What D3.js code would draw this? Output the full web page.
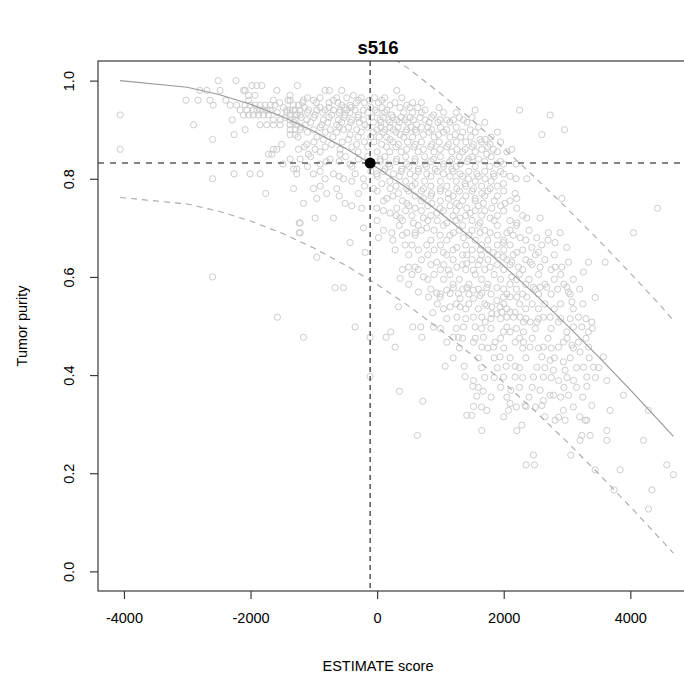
<!DOCTYPE html>
<html><head><meta charset="utf-8">
<script src="https://cdn.jsdelivr.net/npm/d3@7/dist/d3.min.js"></script>
<style>
body{margin:0;background:#fff}
text{font-family:"Liberation Sans",Arial,Helvetica,sans-serif;fill:#000}
</style>
</head><body>
<svg id="chart" width="684" height="681"></svg>
<script>
// ---------------- data ----------------
const chartTitle = "s516";
const xLabel = "ESTIMATE score";
const yLabel = "Tumor purity";
const xTicks = [-4000, -2000, 0, 2000, 4000];
const yTicks = [0.0, 0.2, 0.4, 0.6, 0.8, 1.0];

// the sample being judged
const sampleScore = -110;
const samplePurity = 0.832;

// fitted curve and its bounds at these scores
const lineScores  = [-4060, -3000, -2500, -2000, -1500, -1000, -500, 0, 500, 1000, 1500, 2000, 2500, 3000, 3500, 4000, 4500, 4680];
const fitPurity   = [1.000, 0.9865, 0.9718, 0.9519, 0.9269, 0.8969, 0.8620, 0.8225, 0.7786, 0.7303, 0.6783, 0.6227, 0.5639, 0.5018, 0.4370, 0.3697, 0.3005, 0.2751];
const lowerPurity = [0.762, 0.7485, 0.7338, 0.7139, 0.6889, 0.6589, 0.6240, 0.5845, 0.5406, 0.4923, 0.4403, 0.3847, 0.3259, 0.2638, 0.1990, 0.1317, 0.0625, 0.0371];
const upperPurity = [1.246, 1.2345, 1.2198, 1.1999, 1.1749, 1.1449, 1.1090, 1.0680, 1.0240, 0.9740, 0.9200, 0.8620, 0.8019, 0.7398, 0.6750, 0.6077, 0.5385, 0.5111];

// reference samples: [ESTIMATE score, tumor purity]
const referenceSamples = [
[-4060,0.93],[-4060,0.86],[-2510,1.0],[-2230,1.0],[-3020,0.96],[-2830,0.96],[-2640,0.96],[-2800,0.98],[-2690,0.98],
[-2590,0.95],[-2480,0.98],[-2900,0.91],[-2600,0.88],[-2600,0.80],[-2600,0.60],[-2260,0.81],[-2390,0.96],[-2290,0.92],
[-2260,0.89],[-2320,0.95],[-2220,0.95],[-2165,0.94],
[-1760,0.77],[-1320,0.78],[-1230,0.71],[-1230,0.69],
[-1980,0.99],[-1901,0.99],[-1822,0.99],[-1259,0.99],[-2086,0.98],[-2110,0.98],[-2033,0.97],[-1930,0.97],[-1585,0.98],[-1375,0.97],
[-1375,0.96],[-1640,0.96],[-1410,0.96],[-2030,0.96],
[-2086,0.95],[-2007,0.95],[-1928,0.95],[-1849,0.95],[-1770,0.95],[-1690,0.95],[-1612,0.95],[-1322,0.95],[-1243,0.95],
[-2059,0.94],[-1954,0.94],[-1849,0.94],[-1427,0.94],[-1322,0.94],[-1901,0.94],[-1796,0.94],[-1743,0.94],[-1690,0.94],[-1375,0.94],[-1296,0.94],
[-1375,0.93],[-1269,0.93],[-2112,0.93],[-2033,0.93],[-1955,0.93],[-1875,0.93],[-1796,0.93],[-1717,0.93],[-1296,0.93],
[-1640,0.92],[-1530,0.92],[-1375,0.92],[-1296,0.92],
[-1849,0.91],[-1743,0.91],[-1638,0.91],[-1533,0.91],[-1375,0.91],[-1269,0.91],
[-2086,0.90],[-1375,0.90],[-1296,0.90],[-1375,0.89],[-1296,0.89],
[-1506,0.87],[-1585,0.86],[-1243,0.86],[-1640,0.86],[-1664,0.85],[-1717,0.85],[-1375,0.84],[-1490,0.83],
[-1269,0.82],[-1320,0.82],[-2007,0.81],[-1849,0.81],[-1269,0.81],
[-822,0.98],[-754,0.98],[-559,0.98],[310,0.98],[-374,0.97],
[-121,0.96],[-1164,0.96],[-1006,0.96],[-690,0.96],[-295,0.96],[73,0.96],
[-559,0.95],[-427,0.95],[205,0.95],[468,0.95],
[-1217,0.94],[-1085,0.94],[-954,0.94],[-822,0.94],[-690,0.94],[-585,0.94],[-480,0.94],[-348,0.94],[-216,0.94],[-32,0.94],[153,0.94],[758,0.94],[1548,0.94],
[232,0.93],[890,0.93],[-1217,0.93],[-980,0.93],[-717,0.93],[-506,0.93],[-295,0.93],
[995,0.92],[1100,0.92],[-1112,0.92],[-848,0.92],[-611,0.92],[-401,0.92],[-216,0.92],[47,0.92],[179,0.92],[310,0.92],[442,0.92],[574,0.92],[758,0.92],[1206,0.92],[1364,0.92],
[626,0.91],[-1138,0.91],[-875,0.91],[-638,0.91],[-190,0.91],
[-1217,0.90],[-1006,0.90],[-743,0.90],[-532,0.90],[-322,0.90],[-6,0.90],[126,0.90],[258,0.90],[468,0.90],[600,0.90],[863,0.90],[1100,0.90],[1469,0.90],
[-427,0.89],[363,0.89],[732,0.89],[969,0.89],[1232,0.89],
[1627,0.88],[1706,0.88],[-848,0.88],[-453,0.88],[205,0.88],
[1785,0.87],[-1112,0.87],[-717,0.87],[-322,0.87],[73,0.87],[337,0.87],[600,0.87],[863,0.87],[1127,0.87],[1522,0.87],
[-980,0.86],[-585,0.86],[468,0.86],[732,0.86],[995,0.86],[1258,0.86],[1390,0.86],[1653,0.86],[1838,0.86],
[-1085,0.85],[-585,0.85],[1732,0.85],
[-1217,0.84],[-743,0.84],[-295,0.84],[47,0.84],[310,0.84],[600,0.84],[890,0.84],[1180,0.84],[1443,0.84],[1601,0.84],
[-901,0.83],[-427,0.83],[179,0.83],[468,0.83],[758,0.83],[1048,0.83],[1311,0.83],[1890,0.83],
[126,0.82],[389,0.82],[653,0.82],[916,0.82],[1180,0.82],
[-6,0.81],[258,0.81],[521,0.81],[784,0.81],[1048,0.81],[1311,0.81],[1575,0.81],[1838,0.81],[-1006,0.81],[-690,0.81],[-348,0.81],
[1443,0.80],[1706,0.80],[-822,0.80],[-532,0.80],[-216,0.80],
[73,0.79],[600,0.79],[1390,0.79],
[-1006,0.78],[-638,0.78],[-58,0.78],[205,0.78],[468,0.78],[732,0.78],[995,0.78],[1258,0.78],[1522,0.78],[1785,0.78],
[-796,0.77],[-295,0.77],[337,0.77],[863,0.77],[1127,0.77],[1653,0.77],
[-954,0.76],[153,0.76],[732,0.76],[1127,0.76],[1548,0.76],
[-1164,0.75],[-506,0.75],[468,0.75],[863,0.75],[1258,0.75],[1680,0.75],
[-243,0.74],[-6,0.74],[310,0.74],[600,0.74],[995,0.74],[1416,0.74],[1811,0.74],
[205,0.73],[942,0.73],[1469,0.73],
[-980,0.72],[-690,0.72],[363,0.72],[732,0.72],[1311,0.72],[1785,0.72],
[-1217,0.71],[574,0.71],[1100,0.71],[1627,0.71],
[-216,0.70],[784,0.70],
[-1217,0.69],[231,0.69],[468,0.69],[600,0.69],[1206,0.69],[1627,0.69],[1785,0.69],[995,0.685],
[21,0.68],[1364,0.68],[-427,0.67],[442,0.665],[784,0.665],[1258,0.66],
[284,0.655],[653,0.655],[1627,0.655],[-190,0.65],[1048,0.65],[1838,0.65],[1416,0.645],[-954,0.64],
[1627,0.634],[942,0.63],[1416,0.627],[495,0.62],[600,0.62],[1258,0.62],[1785,0.62],[1127,0.614],[1522,0.614],
[732,0.60],[363,0.597],
[2250,0.94],[2733,0.93],[2602,0.89],[2960,0.90],[2128,0.86],[2196,0.83],[1996,0.83],[2196,0.80],[2365,0.80],[1996,0.81],
[1996,0.79],[2180,0.77],[2207,0.76],[2022,0.75],[2207,0.74],[2918,0.76],[4429,0.74],[4050,0.69],[2365,0.72],[2575,0.72],
[2207,0.71],[2707,0.69],[2891,0.69],[2523,0.68],[2260,0.68],[2050,0.69],[1996,0.67],[2997,0.66],[2812,0.67],[2444,0.66],
[2549,0.65],[2207,0.65],[1996,0.64],[3023,0.63],[3339,0.63],[3602,0.63],[2812,0.62],[2918,0.62],[2575,0.62],[2417,0.63],
[2128,0.63],[2233,0.62],[3260,0.61],[2128,0.60],
[-664,0.578],[-532,0.578],[-348,0.498],[-1164,0.477],[-111,0.477],[-111,0.397],[142,0.477],[216,0.488],[284,0.457],
[337,0.539],[353,0.367],[564,0.498],[637,0.277],[722,0.347],
[653,0.569],[943,0.567],[1101,0.573],[1206,0.578],[1285,0.566],[1417,0.578],[1522,0.573],[1654,0.567],[1733,0.578],[1891,0.578],
[880,0.527],[1153,0.539],[1311,0.539],[1259,0.518],[1364,0.498],[1522,0.518],[1548,0.498],[1654,0.518],[1706,0.508],
[1812,0.539],[1891,0.525],[1943,0.539],
[690,0.498],[706,0.477],[890,0.498],[1101,0.467],[1206,0.477],[1285,0.477],[1522,0.467],[1654,0.457],[1680,0.477],
[1838,0.457],[1943,0.437],[1864,0.467],
[1074,0.418],[1375,0.418],[1390,0.397],[1522,0.389],[1512,0.377],[1675,0.367],[1575,0.357],[1522,0.336],[1417,0.318],
[1496,0.318],[1733,0.328],[1654,0.287],
[995,0.559],[1153,0.566],[1522,0.556],[1627,0.562],[1311,0.556],[811,0.559],[1891,0.552],[1733,0.542],[1812,0.525],
[3444,0.558],[3076,0.549],[3181,0.518],[3392,0.508],[3339,0.488],[3102,0.498],[3234,0.498],[2997,0.488],[2865,0.508],
[2733,0.518],[2628,0.518],[2523,0.508],[2417,0.508],[2312,0.508],[2260,0.518],[2154,0.518],[2049,0.518],[1970,0.528],
[2101,0.528],[2180,0.528],[2575,0.579],[2681,0.579],[2997,0.579],[3023,0.569],[2470,0.579],[2365,0.559],[2207,0.559],
[2101,0.559],[1996,0.559],[2049,0.498],[1996,0.488],[2101,0.488],[2312,0.488],[2180,0.467],[2312,0.467],[2417,0.457],
[2628,0.457],[2865,0.457],[2944,0.467],[3076,0.461],[3181,0.467],[3339,0.457],[3207,0.447],[3576,0.437],[3629,0.389],
[3892,0.359],[4287,0.328],[3418,0.416],[3260,0.416],[3313,0.396],[3313,0.377],[3102,0.389],[2970,0.410],[2786,0.410],
[2733,0.430],[2602,0.437],[2523,0.416],[2470,0.396],[2628,0.396],[2944,0.427],[2865,0.389],[3023,0.359],[2733,0.359],
[2628,0.348],[2602,0.338],[2786,0.359],[2101,0.342],[2075,0.328],[2338,0.338],[2865,0.314],[2812,0.308],[2970,0.308],
[2944,0.328],[3286,0.308],[3392,0.338],[3681,0.328],[3629,0.287],[3629,0.267],[3365,0.277],[3234,0.277],[3207,0.267],
[3313,0.308],[4208,0.267],[4577,0.217],[4682,0.197],[4340,0.166],[4287,0.127],[3840,0.207],[3444,0.207],[3744,0.166],
[3060,0.237],[2470,0.237],[2354,0.217],[2486,0.217],[2207,0.287],[2286,0.298],[2038,0.418],[2180,0.418],[2180,0.396],
[1996,0.396],[2112,0.369],[2354,0.336],[2575,0.369],
[-1575,0.518]
];

// further reference samples in the dense core, read row by row: [purity, [scores...]]
const referenceRows = [
[0.965, [-1100, -900, -640, -480, -250, -40, 120, 390]],
[0.955, [-1540, -1180, -960, -760, -620, -330, -200, 20, 280, 560, 700]],
[0.945, [-1480, -1150, -900, -760, -520, -410, -100, 80, 360, 520, 640, 980]],
[0.935, [-1580, -1430, -1100, -860, -600, -430, -150, 0, 120, 420, 560, 700, 1050, 1250]],
[0.925, [-1450, -1200, -1000, -760, -520, -300, -90, 100, 250, 380, 520, 680, 860, 1300, 1500]],
[0.915, [-1320, -1050, -780, -560, -420, -280, -60, 60, 200, 350, 480, 820, 960, 1150, 1420, 1700]],
[0.905, [-1200, -900, -600, -450, -150, 60, 200, 330, 540, 700, 800, 1000, 1250, 1600]],
[0.895, [-1100, -820, -640, -250, -60, 100, 300, 450, 620, 820, 1050, 1350, 1550, 1900]],
[0.885, [-1250, -950, -700, -300, -100, 30, 150, 420, 560, 900, 1150, 1320, 1480, 1800]],
[0.875, [-1000, -550, -200, -50, 250, 480, 700, 980, 1250, 1400, 1650, 1950]],
[0.865, [-1150, -820, -400, -150, 150, 300, 580, 850, 1100, 1500, 1750]],
[0.855, [-900, -300, 0, 200, 380, 650, 900, 1180, 1350, 1550, 1900, 2050]],
[0.845, [-1050, -500, -150, 120, 450, 750, 1000, 1300, 1500, 1800]],
[0.835, [-800, -600, 50, 300, 600, 850, 1150, 1420, 1700, 1950]],
[0.825, [-1100, -400, 200, 500, 780, 1050, 1250, 1550, 1780]],
[0.815, [-900, -100, 100, 380, 650, 950, 1200, 1450, 1700, 1950]],
[0.805, [-600, 0, 350, 600, 850, 1150, 1350, 1600, 1850, 2100]],
[0.795, [-400, 200, 450, 750, 1000, 1250, 1550, 1800]],
[0.785, [-900, -200, 300, 550, 850, 1100, 1400, 1650, 1900]],
[0.775, [0, 500, 700, 1000, 1300, 1500, 1750, 2000]],
[0.765, [-600, 250, 600, 850, 1200, 1400, 1700, 1900]],
[0.755, [100, 400, 700, 1000, 1350, 1550, 1850, 2100]],
[0.745, [-400, 500, 800, 1150, 1300, 1600, 1950]],
[0.735, [100, 450, 700, 1050, 1250, 1550, 1700, 2000]],
[0.725, [300, 550, 850, 1200, 1400, 1650, 1900, 2300]],
[0.715, [0, 400, 800, 950, 1250, 1500, 1850, 2100]],
[0.705, [350, 650, 1050, 1350, 1600, 1900, 2200]],
[0.695, [100, 700, 900, 1300, 1500, 1700, 2100, 2400]],
[0.685, [400, 600, 1150, 1450, 1900, 2150]],
[0.675, [250, 850, 1100, 1550, 1750, 2000, 2350, 2700]],
[0.665, [550, 1000, 1400, 1650, 1900, 2100, 2600]],
[0.655, [900, 1200, 1500, 1750, 2000, 2300]],
[0.645, [500, 800, 1100, 1350, 1650, 1900, 2150, 2500, 2800]],
[0.635, [700, 1200, 1500, 1750, 2050, 2350, 2650]],
[0.625, [850, 1050, 1350, 1600, 1900, 2100, 2450]],
[0.615, [400, 650, 1000, 1400, 1700, 2000, 2300, 2750]],
[0.605, [550, 900, 1150, 1550, 1850, 2250, 2550, 2900]],
[0.595, [800, 1050, 1300, 1650, 1950, 2200, 2400, 2800, 3100]],
[0.585, [500, 1200, 1450, 1750, 2100, 2350, 2650, 2950]],
[0.575, [850, 1350, 1600, 2000, 2200, 2500, 2850, 3200]],
[0.565, [1000, 1450, 1800, 2050, 2300, 2550, 2750, 3050]],
[0.545, [950, 1250, 1450, 1700, 2000, 2250, 2450, 2650, 2900, 3250]],
[0.535, [1050, 1400, 1600, 2050, 2350, 2550, 2800, 3100]],
[0.515, [1100, 1400, 1800, 1950, 2350, 2550, 2900, 3050, 3300]],
[0.495, [1000, 1250, 1650, 1800, 2200, 2500, 2750, 3400]],
[0.475, [1350, 1550, 1950, 2250, 2450, 2700, 3000, 3300]],
[0.455, [1300, 1750, 2000, 2300, 2550, 2750, 3100]],
[0.435, [1200, 1600, 1850, 2100, 2350, 2800, 3050, 3350]],
[0.415, [1650, 1900, 2250, 2650, 3150, 3500]],
[0.395, [1700, 1850, 2300, 2750, 3000, 3450]],
[0.375, [1600, 1950, 2250, 2450, 2950, 3150]],
[0.355, [1800, 2050, 2400, 2900, 3250]],
[0.335, [1650, 2200, 2500, 3100]],
[0.315, [2000, 2650, 3200]]
];

const allSamples = referenceSamples.concat(
  referenceRows.flatMap(([p, scores]) => scores.map(s => [s, p]))
);

// ---------------- layout ----------------
const svg = d3.select("#chart");
const W = 684, H = 681;
const plot = {left: 98, top: 61, right: 695.5, bottom: 591};

const x = d3.scaleLinear().domain([-4410, 5030]).range([plot.left, plot.right]);
const y = d3.scaleLinear().domain([-0.04, 1.04]).range([plot.bottom, plot.top]);

svg.append("rect").attr("width", W).attr("height", H).attr("fill", "#fff");

svg.append("defs").append("clipPath").attr("id", "clip")
  .append("rect").attr("x", plot.left).attr("y", plot.top)
  .attr("width", plot.right - plot.left).attr("height", plot.bottom - plot.top);

const g = svg.append("g").attr("clip-path", "url(#clip)");

// reference samples
g.append("g").selectAll("circle").data(allSamples).join("circle")
  .attr("cx", d => x(d[0])).attr("cy", d => y(d[1])).attr("r", 3.1)
  .attr("fill", "none").attr("stroke", "#cccccc").attr("stroke-width", 1);

const lineGen = vals => d3.line().x((d, i) => x(lineScores[i])).y(d => y(d))(vals);

g.append("path").attr("d", lineGen(fitPurity))
  .attr("fill", "none").attr("stroke", "#9a9a9a").attr("stroke-width", 1.2);
g.append("path").attr("d", lineGen(lowerPurity))
  .attr("fill", "none").attr("stroke", "#a8a8a8").attr("stroke-width", 1.1).attr("stroke-dasharray", "6,5");
g.append("path").attr("d", lineGen(upperPurity))
  .attr("fill", "none").attr("stroke", "#a8a8a8").attr("stroke-width", 1.1).attr("stroke-dasharray", "6,5");

// reference lines through the sample
g.append("line").attr("x1", x(sampleScore)).attr("x2", x(sampleScore))
  .attr("y1", plot.top).attr("y2", plot.bottom)
  .attr("stroke", "#5e5e5e").attr("stroke-width", 1.6).attr("stroke-dasharray", "5,4");
g.append("line").attr("x1", plot.left).attr("x2", plot.right)
  .attr("y1", y(samplePurity)).attr("y2", y(samplePurity))
  .attr("stroke", "#5e5e5e").attr("stroke-width", 1.6).attr("stroke-dasharray", "6,6");

svg.append("circle").attr("cx", x(sampleScore)).attr("cy", y(samplePurity)).attr("r", 5.5).attr("fill", "#000");

// box
svg.append("rect").attr("x", plot.left).attr("y", plot.top)
  .attr("width", plot.right - plot.left).attr("height", plot.bottom - plot.top)
  .attr("fill", "none").attr("stroke", "#3a3a3a").attr("stroke-width", 1.2);

// axes
const xAxis = d3.axisBottom(x).tickValues(xTicks).tickSize(8).tickPadding(14).tickFormat(d3.format("d"));
const gx = svg.append("g").attr("transform", `translate(0,${plot.bottom})`).call(xAxis);
gx.select(".domain").remove();
gx.selectAll("line").attr("stroke", "#3a3a3a").attr("stroke-width", 1.2);
gx.selectAll("text").attr("font-size", 14.5).attr("fill", "#111")
  .text(d => d < 0 ? "-" + Math.abs(d) : String(d));

const yAxis = d3.axisLeft(y).tickValues(yTicks).tickSize(8).tickFormat(d3.format(".1f"));
const gy = svg.append("g").attr("transform", `translate(${plot.left},0)`).call(yAxis);
gy.select(".domain").remove();
gy.selectAll("line").attr("stroke", "#3a3a3a").attr("stroke-width", 1.2);
gy.selectAll("text").attr("font-size", 14.5).attr("fill", "#111")
  .attr("x", null).attr("dy", null)
  .attr("text-anchor", "middle")
  .attr("transform", "translate(-29,0) rotate(-90)")
  .attr("dominant-baseline", "central");

// titles
svg.append("text").attr("x", 378).attr("y", 54).attr("text-anchor", "middle")
  .attr("font-size", 18.5).attr("font-weight", "bold").text(chartTitle);
svg.append("text").attr("x", 378).attr("y", 671).attr("text-anchor", "middle")
  .attr("font-size", 14.5).attr("fill", "#111").text(xLabel);
svg.append("text").attr("transform", `translate(27,${(plot.top + plot.bottom) / 2}) rotate(-90)`)
  .attr("text-anchor", "middle").attr("font-size", 14.5).attr("fill", "#111").text(yLabel);
</script>
</body></html>
